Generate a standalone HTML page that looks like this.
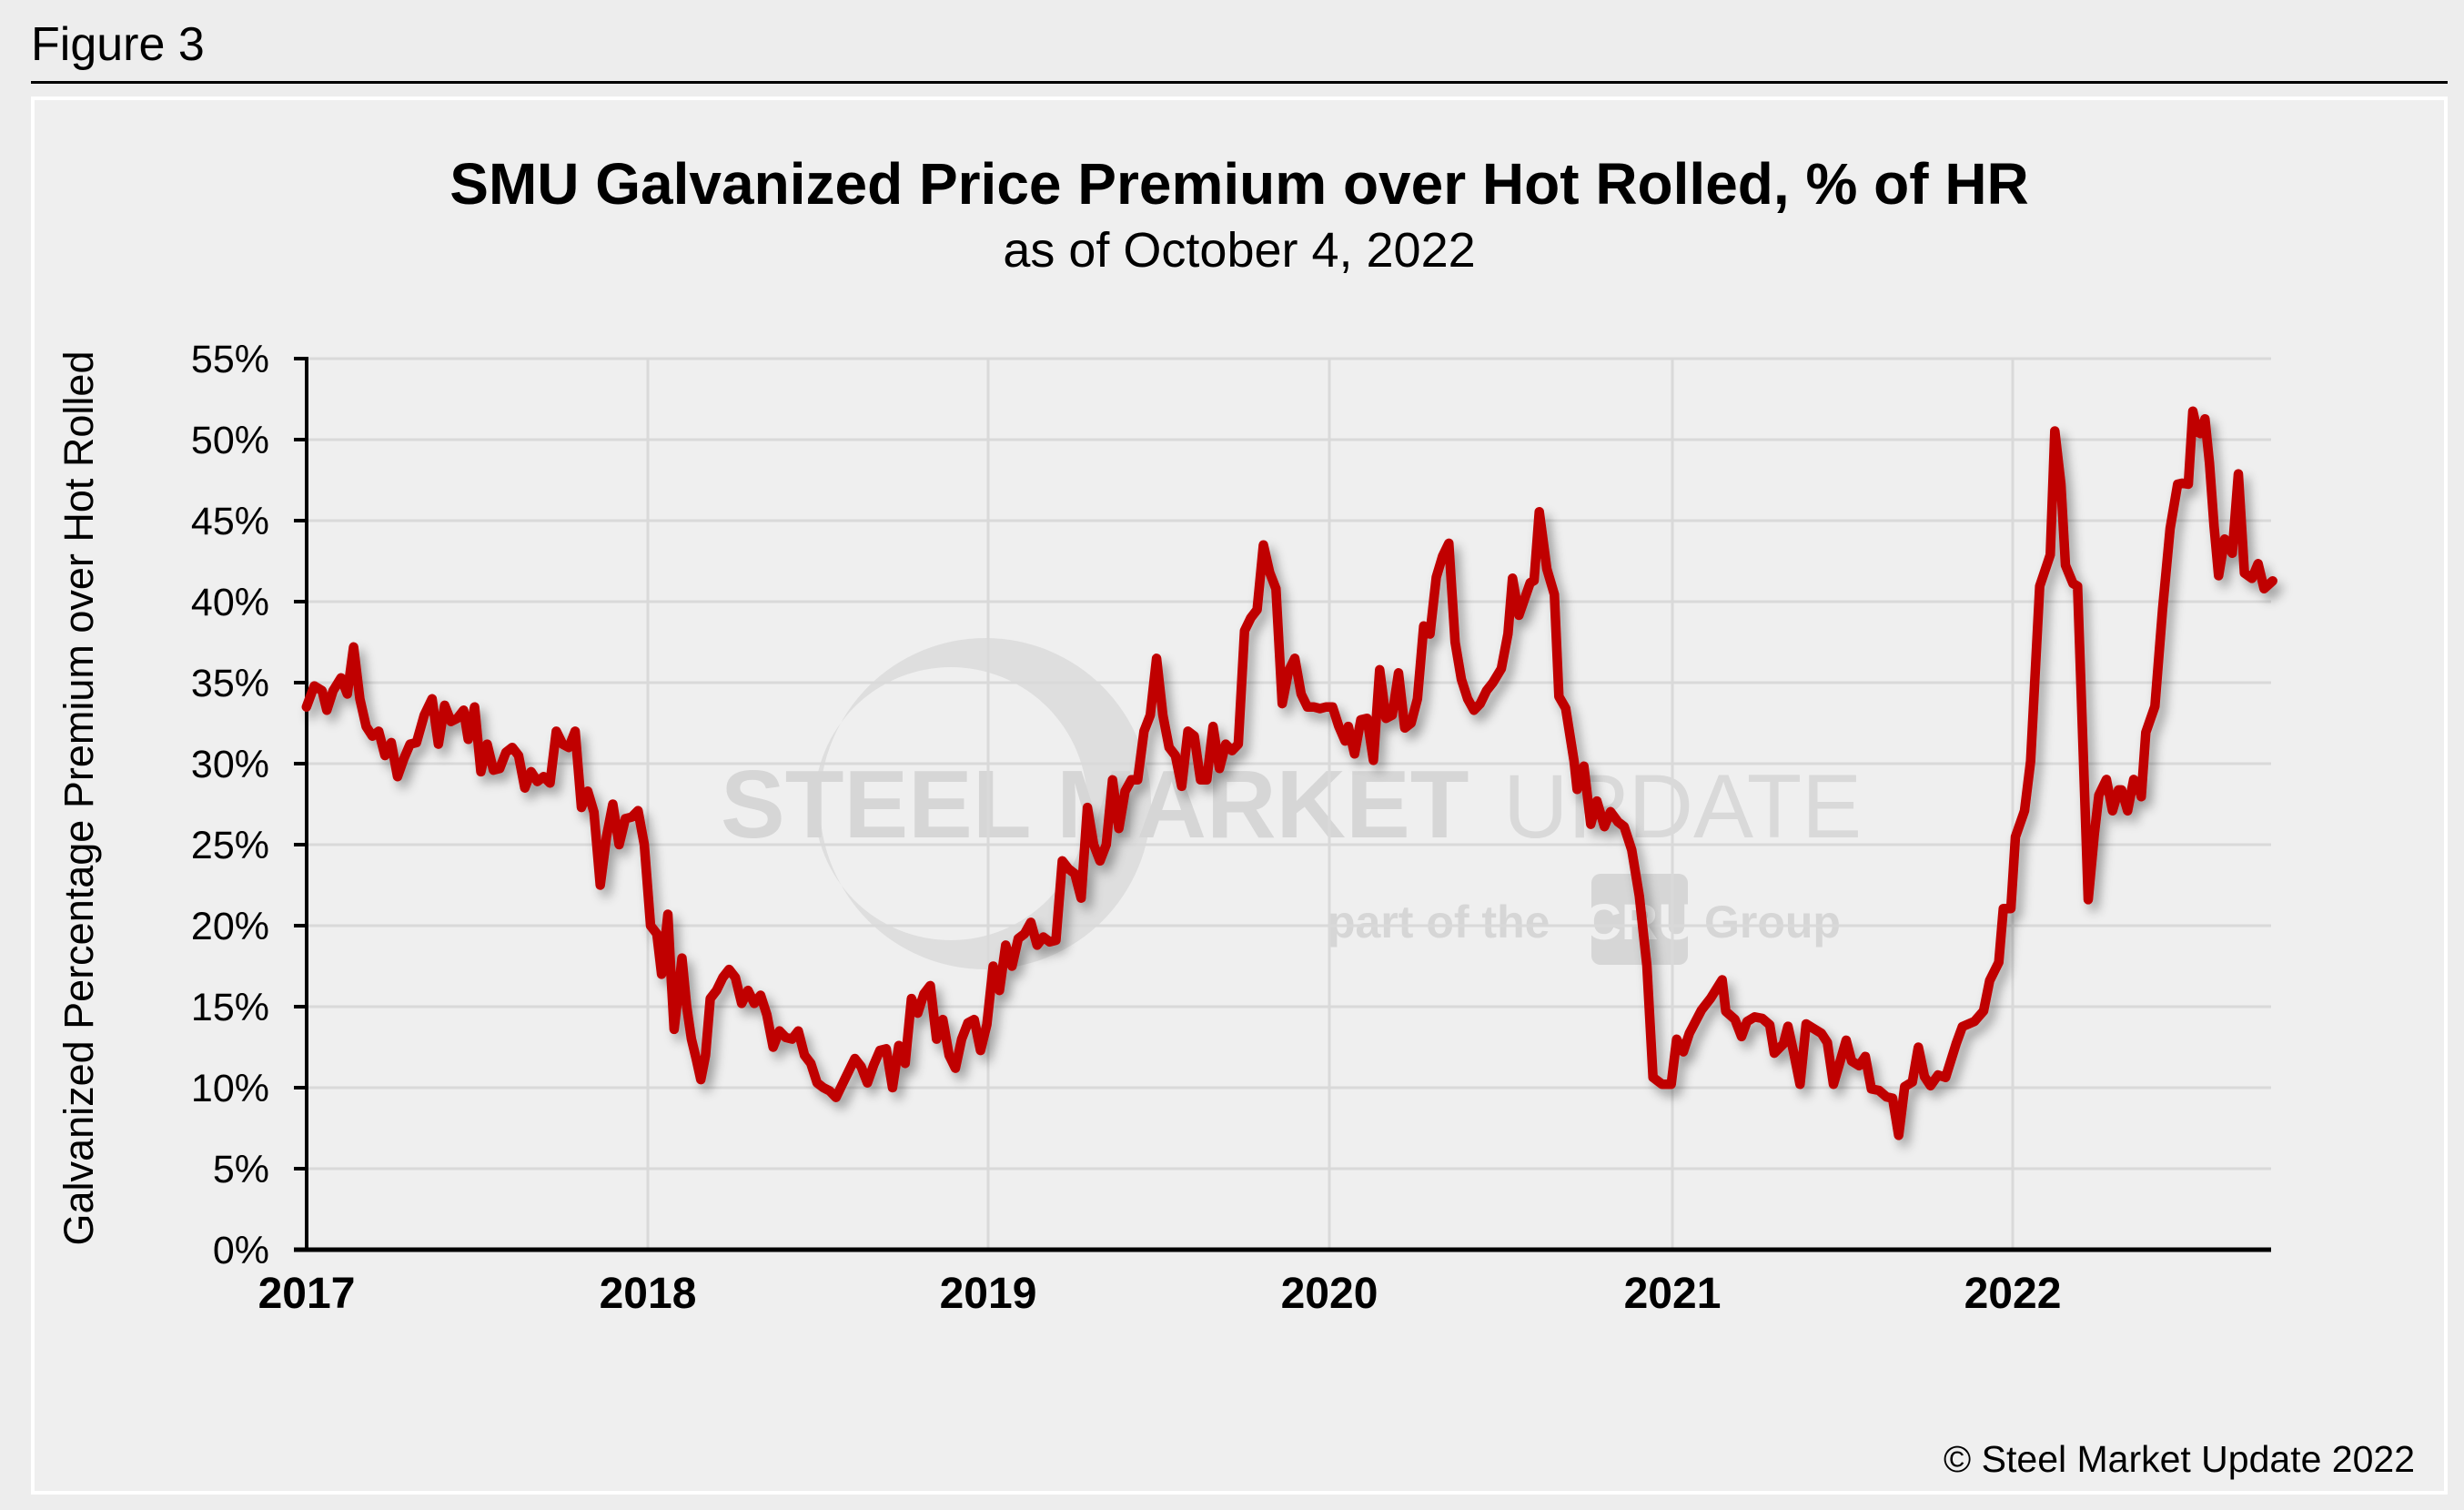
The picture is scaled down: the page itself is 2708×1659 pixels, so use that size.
<!DOCTYPE html>
<html><head><meta charset="utf-8"><style>
html,body{margin:0;padding:0;background:#ededed;}
svg{display:block;}
text{font-family:"Liberation Sans",Arial,sans-serif;}
</style></head><body>
<svg id="s" width="2708" height="1659" viewBox="0 0 2708 1659" xmlns="http://www.w3.org/2000/svg">
<defs>
<filter id="sh" x="-5%" y="-5%" width="110%" height="110%">
<feGaussianBlur in="SourceAlpha" stdDeviation="6"/>
<feOffset dx="6" dy="8" result="b"/>
<feComponentTransfer><feFuncA type="linear" slope="0.35"/></feComponentTransfer>
<feMerge><feMergeNode/><feMergeNode in="SourceGraphic"/></feMerge>
</filter>
</defs>
<rect width="2708" height="1659" fill="#ededed"/>
<text x="34" y="66" font-size="52" fill="#000">Figure 3</text>
<rect x="34" y="89" width="2656" height="3" fill="#000"/>
<rect x="36" y="108" width="2652" height="1532" fill="#efefef" stroke="#ffffff" stroke-width="4"/>
<text x="1362" y="224" font-size="64" font-weight="bold" text-anchor="middle">SMU Galvanized Price Premium over Hot Rolled, % of HR</text>
<text x="1362" y="293" font-size="54" text-anchor="middle">as of October 4, 2022</text>
<!-- watermark -->
<path d="M1083 701 A182 182 0 1 1 1083 1065 A182 182 0 1 1 1083 701 Z M1045 733 A150 150 0 1 0 1045 1033 A150 150 0 1 0 1045 733 Z" fill="#d9d9d9" fill-rule="evenodd" opacity="0.8"/>
<text x="792" y="920" font-size="106" font-weight="bold" fill="#d6d6d6">STEEL MARKET</text>
<text x="1652" y="920" font-size="99" fill="#d9d9d9">UPDATE</text>
<text x="1459" y="1030" font-size="50" font-weight="bold" fill="#d6d6d6">part of the</text>
<rect x="1749" y="960" width="106" height="100" rx="10" fill="#d6d6d6"/>
<text x="1802" y="1032" font-size="56" font-weight="bold" fill="#efefef" text-anchor="middle">CRU</text>
<text x="1873" y="1030" font-size="50" font-weight="bold" fill="#d6d6d6">Group</text>
<g id="grid" stroke="#d9d9d9" stroke-width="3"></g>
<g id="axes"></g>
<text transform="translate(102,877) rotate(-90)" font-size="45" text-anchor="middle">Galvanized Percentage Premium over Hot Rolled</text>
<polyline id="ln" fill="none" stroke="#c00000" stroke-width="10.5" stroke-linejoin="round" stroke-linecap="round" filter="url(#sh)"/>
<text x="2654" y="1617" font-size="41" text-anchor="end">© Steel Market Update 2022</text>
</svg>
<script>
var NS="http://www.w3.org/2000/svg";
var L=337,R=2496,T=394,B=1373;
function yv(v){return B-v*(B-T)/55;}
var g=document.getElementById('grid'),ax=document.getElementById('axes');
function el(p,tag,a,txt){var e=document.createElementNS(NS,tag);for(var k in a)e.setAttribute(k,a[k]);if(txt)e.textContent=txt;p.appendChild(e);return e;}
for(var i=1;i<=11;i++){var y=yv(i*5);el(g,'line',{x1:L,x2:R,y1:y,y2:y});}
var yrs=[712,1086,1461,1838,2212];
yrs.forEach(function(x){el(g,'line',{x1:x,x2:x,y1:T,y2:B});});
el(ax,'line',{x1:L,x2:L,y1:T-2,y2:B+2,stroke:'#000','stroke-width':4});
el(ax,'line',{x1:L-14,x2:R,y1:B,y2:B,stroke:'#000','stroke-width':5});
for(var i=0;i<=11;i++){var y=yv(i*5);el(ax,'line',{x1:L-14,x2:L,y1:y,y2:y,stroke:'#000','stroke-width':4});
el(ax,'text',{x:296,y:y+15,'font-size':43,'text-anchor':'end'},(i*5)+'%');}
var lab=[337,712,1086,1461,1838,2212];
lab.forEach(function(x,i){el(ax,'text',{x:x,y:1437,'font-size':48,'font-weight':'bold','text-anchor':'middle'},String(2017+i));});
var P=[195,33.5,200,34.8,205,34.5,208,33.3,212,34.5,217,35.3,221,34.3,225,37.2,229,34,233,32.3,237,31.7,241,32,245,30.5,249,31.3,253,29.2,257,30.3,261,31.2,265,31.3,270,33,275,34,279,31.2,283,33.6,287,32.6,291,32.8,295,33.3,298,31.5,302,33.5,306,29.5,310,31.2,314,29.6,318,29.7,322,30.7,326,31,330,30.5,334,28.5,338,29.5,342,28.9,346,29.2,350,28.8,354,32,358,31.2,362,31,366,32,370,27.3,374,28.3,378,27,382,22.5,386,25.5,390,27.5,394,25,398,26.6,402,26.7,406,27.1,410,25,414,20,418,19.5,421,17,425,20.7,427,17,429,13.6,432,16.2,434,18,437,15,440,13,443,11.8,446,10.5,449,12,452,15.5,456,16,460,16.8,464,17.3,468,16.8,472,15.2,476,16,480,15.2,484,15.7,488,14.5,492,12.5,496,13.5,500,13.1,504,13,508,13.5,512,12,516,11.5,520,10.3,524,10,528,9.8,532,9.4,536,10.2,540,11,544,11.8,548,11.3,552,10.3,556,11.4,560,12.3,564,12.4,568,10,572,12.6,576,11.5,580,15.5,584,14.6,588,15.8,592,16.3,596,13,600,14.2,604,12,608,11.2,612,13,616,14,620,14.2,624,12.3,628,13.9,632,17.5,636,16,640,18.8,644,17.5,648,19.2,652,19.5,656,20.2,660,18.8,664,19.3,668,19,672,19.1,676,24,680,23.5,684,23.2,688,21.7,692,27.3,696,25,700,24,704,25,708,29,712,26,716,28.3,720,29,724,29,728,32,732,33,736,36.5,740,33,744,31,748,30.5,752,28.6,756,32,760,31.7,764,29,768,29,772,32.3,776,29.7,780,31.2,784,30.8,788,31.2,792,38.2,796,39,800,39.5,804,43.5,808,41.8,812,40.8,816,33.7,820,35.7,824,36.5,828,34.3,832,33.5,836,33.5,840,33.4,844,33.5,848,33.5,852,32.3,856,31.4,858,32.3,862,30.6,866,32.7,870,32.8,874,30.2,878,35.8,882,32.8,886,33,890,35.6,894,32.2,898,32.5,902,34,906,38.5,910,38,914,41.5,918,42.8,922,43.6,926,37.5,930,35.2,934,34,938,33.3,942,33.7,946,34.5,950,35];
var Z5=[0,460,22,385,37,265,58,345,95,275,108,270,125,122,150,245,175,300,190,520,212,545,240,660,250,720,272,670,295,795,315,745,340,800,360,768,385,790,405,800,430,850,455,950,480,1100,500,1340,530,1355,560,1355,578,1258,600,1285,620,1245,660,1195,690,1170,728,1130,740,1198,770,1215,792,1252,810,1220,835,1210,860,1213,885,1227,900,1288,930,1268,945,1230,965,1290,985,1355,1005,1225,1030,1235,1055,1245,1075,1265,1095,1355,1115,1310,1137,1260,1155,1305,1180,1315,1200,1295,1220,1365,1245,1368,1270,1382,1290,1385,1310,1465,1330,1360,1355,1350,1375,1275,1395,1338,1415,1358,1440,1335,1465,1340];
var Z4=[0,1300,20,1268,60,1258,90,1238,110,1180,140,1145,155,1042,180,1042,195,905,225,855,245,760,275,425,310,365,325,128,345,230,360,385,385,420,400,425,435,1025,455,900,470,825,495,795,515,855,535,815,545,815,565,855,585,795,600,805,610,828,625,705,655,655,680,470,705,315,730,230,745,228,765,230,780,90,795,130,805,133,820,105,835,190,850,310,865,405,885,335,910,362,930,210,950,400,975,410,995,382,1015,430,1043,415];
var pts=[];
for(var i=0;i<P.length;i+=2)pts.push((P[i]*1.727).toFixed(1)+','+yv(P[i+1]).toFixed(1));
for(var i=0;i<Z5.length;i+=2)pts.push((1650+Z5[i]/3).toFixed(1)+','+(500+Z5[i+1]/1.96).toFixed(1));
for(var i=0;i<Z4.length;i+=2)pts.push((2150+Z4[i]/3).toFixed(1)+','+(400+Z4[i+1]/1.742).toFixed(1));
document.getElementById('ln').setAttribute('points',pts.join(' '));
</script>
</body></html>
